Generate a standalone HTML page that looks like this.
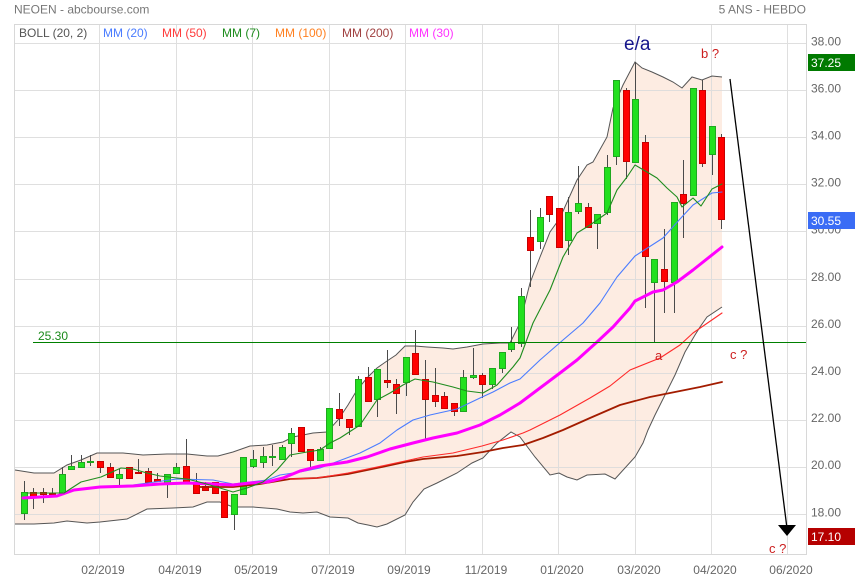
<!DOCTYPE html>
<html><head><meta charset="utf-8"><style>
html,body{margin:0;padding:0;background:#fff;}
svg{display:block;}
text{font-family:"Liberation Sans",Arial,sans-serif;}
</style></head><body>
<svg width="855" height="580" viewBox="0 0 855 580" xmlns="http://www.w3.org/2000/svg">
<rect width="855" height="580" fill="#fff"/>
<!-- bollinger fill -->
<polygon fill="#fdece2" points="15,470 34,473 54,473 67,465 81,460 97,453 123,453 143,455 167,454 187,454 207,456 218,456 233,452 250,446 267,445 283,442 293,437 313,433 327,432 338,420 348,405 357,390 367,378 377,368 387,361 396,355 405,346 415,346 427,347 443,348 453,349 467,347 483,344 500,343 510,343 520,323 530,283 540,257 550,232 560,218 568,200 577,180 587,165 593,162 607,137 613,108 623,85 635,62 642,68 652,72 663,77 673,82 682,88 692,77 702,80 712,76 722,77 722,307 707,317 700,327 695,335 685,352 675,375 665,395 655,415 648,430 643,443 635,457 615,479 605,474 587,475 577,480 567,477 559,473 550,475 535,457 520,437 511,432 497,443 483,458 472,463 457,473 437,483 424,489 413,502 405,515 387,524 377,527 368,525 358,523 348,518 330,517 317,512 303,513 290,512 277,509 253,507 233,507 220,502 207,502 193,507 173,508 147,509 127,519 100,522 87,523 67,521 54,523 34,524 15,524"/>
<!-- grid -->
<g stroke="#dcdcdc" stroke-width="1" fill="none" opacity="0.9">
<line x1="15" y1="43.5" x2="806" y2="43.5"/><line x1="15" y1="90.5" x2="806" y2="90.5"/><line x1="15" y1="137.5" x2="806" y2="137.5"/><line x1="15" y1="184.5" x2="806" y2="184.5"/><line x1="15" y1="231.5" x2="806" y2="231.5"/><line x1="15" y1="279.5" x2="806" y2="279.5"/><line x1="15" y1="326.5" x2="806" y2="326.5"/><line x1="15" y1="373.5" x2="806" y2="373.5"/><line x1="15" y1="420.5" x2="806" y2="420.5"/><line x1="15" y1="467.5" x2="806" y2="467.5"/><line x1="15" y1="514.5" x2="806" y2="514.5"/>
<line x1="99.5" y1="24" x2="99.5" y2="554"/><line x1="176.5" y1="24" x2="176.5" y2="554"/><line x1="252.5" y1="24" x2="252.5" y2="554"/><line x1="329.5" y1="24" x2="329.5" y2="554"/><line x1="405.5" y1="24" x2="405.5" y2="554"/><line x1="482.5" y1="24" x2="482.5" y2="554"/><line x1="558.5" y1="24" x2="558.5" y2="554"/><line x1="635.5" y1="24" x2="635.5" y2="554"/><line x1="711.5" y1="24" x2="711.5" y2="554"/><line x1="787.5" y1="24" x2="787.5" y2="554"/>
</g>
<rect x="14.5" y="24.5" width="792" height="530" fill="none" stroke="#d8d8d8"/>
<!-- band lines -->
<g fill="none" stroke="#555" stroke-width="1">
<polyline points="15,470 34,473 54,473 67,465 81,460 97,453 123,453 143,455 167,454 187,454 207,456 218,456 233,452 250,446 267,445 283,442 293,437 313,433 327,432 338,420 348,405 357,390 367,378 377,368 387,361 396,355 405,346 415,346 427,347 443,348 453,349 467,347 483,344 500,343 510,343 520,323 530,283 540,257 550,232 560,218 568,200 577,180 587,165 593,162 607,137 613,108 623,85 635,62 642,68 652,72 663,77 673,82 682,88 692,77 702,80 712,76 722,77"/>
<polyline points="15,524 34,524 54,523 67,521 87,523 100,522 127,519 147,509 173,508 193,507 207,502 220,502 233,507 253,507 277,509 290,512 303,513 317,512 330,517 348,518 358,523 368,525 377,527 387,524 405,515 413,502 424,489 437,483 457,473 472,463 483,458 497,443 511,432 520,437 535,457 550,475 559,473 567,477 577,480 587,475 605,474 615,479 635,457 643,443 648,430 655,415 665,395 675,375 685,352 695,335 700,327 707,317 722,307"/>
</g>
<!-- wicks -->
<g stroke="#4a4a4a" stroke-width="1">
<line x1="24.5" y1="481" x2="24.5" y2="520"/><line x1="33.5" y1="488" x2="33.5" y2="509"/><line x1="43.5" y1="488" x2="43.5" y2="503"/><line x1="52.5" y1="488" x2="52.5" y2="494"/><line x1="62.5" y1="467" x2="62.5" y2="493"/><line x1="71.5" y1="455" x2="71.5" y2="469"/><line x1="81.5" y1="455" x2="81.5" y2="467"/><line x1="90.5" y1="455" x2="90.5" y2="466"/><line x1="100.5" y1="461" x2="100.5" y2="473"/><line x1="110.5" y1="463" x2="110.5" y2="477"/><line x1="119.5" y1="469" x2="119.5" y2="485"/><line x1="129.5" y1="467" x2="129.5" y2="478"/><line x1="138.5" y1="459" x2="138.5" y2="473"/><line x1="148.5" y1="468" x2="148.5" y2="482"/><line x1="157.5" y1="473" x2="157.5" y2="481"/><line x1="167.5" y1="474" x2="167.5" y2="498"/><line x1="176.5" y1="463" x2="176.5" y2="473"/><line x1="186.5" y1="439" x2="186.5" y2="482"/><line x1="196.5" y1="473" x2="196.5" y2="493"/><line x1="205.5" y1="482" x2="205.5" y2="490"/><line x1="215.5" y1="482" x2="215.5" y2="493"/><line x1="224.5" y1="491" x2="224.5" y2="517"/><line x1="234.5" y1="494" x2="234.5" y2="530"/><line x1="243.5" y1="457" x2="243.5" y2="494"/><line x1="253.5" y1="450" x2="253.5" y2="468"/><line x1="263.5" y1="447" x2="263.5" y2="468"/><line x1="272.5" y1="445" x2="272.5" y2="466"/><line x1="282.5" y1="445" x2="282.5" y2="459"/><line x1="291.5" y1="428" x2="291.5" y2="457"/><line x1="301.5" y1="427" x2="301.5" y2="451"/><line x1="310.5" y1="449" x2="310.5" y2="468"/><line x1="320.5" y1="447" x2="320.5" y2="460"/><line x1="329.5" y1="408" x2="329.5" y2="448"/><line x1="339.5" y1="393" x2="339.5" y2="426"/><line x1="349.5" y1="419" x2="349.5" y2="435"/><line x1="358.5" y1="376" x2="358.5" y2="426"/><line x1="368.5" y1="367" x2="368.5" y2="401"/><line x1="377.5" y1="369" x2="377.5" y2="417"/><line x1="387.5" y1="350" x2="387.5" y2="388"/><line x1="396.5" y1="379" x2="396.5" y2="414"/><line x1="406.5" y1="357" x2="406.5" y2="396"/><line x1="415.5" y1="330" x2="415.5" y2="374"/><line x1="425.5" y1="360" x2="425.5" y2="441"/><line x1="435.5" y1="368" x2="435.5" y2="407"/><line x1="444.5" y1="392" x2="444.5" y2="408"/><line x1="454.5" y1="403" x2="454.5" y2="416"/><line x1="463.5" y1="370" x2="463.5" y2="411"/><line x1="473.5" y1="348" x2="473.5" y2="379"/><line x1="482.5" y1="373" x2="482.5" y2="398"/><line x1="492.5" y1="368" x2="492.5" y2="389"/><line x1="502.5" y1="352" x2="502.5" y2="373"/><line x1="511.5" y1="327" x2="511.5" y2="352"/><line x1="521.5" y1="288" x2="521.5" y2="347"/><line x1="530.5" y1="210" x2="530.5" y2="287"/><line x1="540.5" y1="208" x2="540.5" y2="249"/><line x1="549.5" y1="196" x2="549.5" y2="222"/><line x1="559.5" y1="208" x2="559.5" y2="247"/><line x1="568.5" y1="197" x2="568.5" y2="255"/><line x1="578.5" y1="166" x2="578.5" y2="214"/><line x1="588.5" y1="203" x2="588.5" y2="227"/><line x1="597.5" y1="214" x2="597.5" y2="249"/><line x1="607.5" y1="155" x2="607.5" y2="215"/><line x1="616.5" y1="80" x2="616.5" y2="165"/><line x1="626.5" y1="88" x2="626.5" y2="179"/><line x1="635.5" y1="62" x2="635.5" y2="162"/><line x1="645.5" y1="135" x2="645.5" y2="308"/><line x1="654.5" y1="259" x2="654.5" y2="343"/><line x1="664.5" y1="229" x2="664.5" y2="313"/><line x1="674.5" y1="202" x2="674.5" y2="313"/><line x1="683.5" y1="160" x2="683.5" y2="238"/><line x1="693.5" y1="88" x2="693.5" y2="195"/><line x1="702.5" y1="80" x2="702.5" y2="167"/><line x1="712.5" y1="126" x2="712.5" y2="175"/><line x1="721.5" y1="134" x2="721.5" y2="229"/>
</g>
<!-- green bodies -->
<g fill="#22e01e" stroke="#1fa81f" stroke-width="1">
<rect x="21.5" y="492.5" width="6" height="21"/><rect x="59.5" y="474.5" width="6" height="19"/><rect x="68.5" y="466.5" width="6" height="3"/><rect x="78.5" y="462.5" width="6" height="5"/><rect x="87.5" y="461.5" width="6" height="1"/><rect x="116.5" y="474.5" width="6" height="4"/><rect x="164.5" y="474.5" width="6" height="9"/><rect x="173.5" y="467.5" width="6" height="6"/><rect x="231.5" y="494.5" width="6" height="20"/><rect x="240.5" y="457.5" width="6" height="37"/><rect x="250.5" y="459.5" width="6" height="7"/><rect x="260.5" y="456.5" width="6" height="6"/><rect x="269.5" y="456.5" width="6" height="1"/><rect x="279.5" y="447.5" width="6" height="12"/><rect x="288.5" y="433.5" width="6" height="10"/><rect x="317.5" y="449.5" width="6" height="11"/><rect x="326.5" y="408.5" width="6" height="40"/><rect x="355.5" y="379.5" width="6" height="47"/><rect x="374.5" y="369.5" width="6" height="30"/><rect x="403.5" y="357.5" width="6" height="25"/><rect x="460.5" y="377.5" width="6" height="34"/><rect x="470.5" y="375.5" width="6" height="2"/><rect x="489.5" y="368.5" width="6" height="16"/><rect x="499.5" y="352.5" width="6" height="16"/><rect x="508.5" y="342.5" width="6" height="7"/><rect x="518.5" y="296.5" width="6" height="47"/><rect x="537.5" y="217.5" width="6" height="24"/><rect x="565.5" y="212.5" width="6" height="28"/><rect x="575.5" y="203.5" width="6" height="8"/><rect x="594.5" y="214.5" width="6" height="9"/><rect x="604.5" y="167.5" width="6" height="45"/><rect x="613.5" y="80.5" width="6" height="76"/><rect x="632.5" y="99.5" width="6" height="63"/><rect x="651.5" y="259.5" width="6" height="23"/><rect x="671.5" y="202.5" width="6" height="80"/><rect x="690.5" y="88.5" width="6" height="107"/><rect x="709.5" y="126.5" width="6" height="28"/>
</g>
<!-- red bodies -->
<g fill="#ff0000" stroke="#c80000" stroke-width="1">
<rect x="30.5" y="492.5" width="6" height="4"/><rect x="40.5" y="492.5" width="6" height="2"/><rect x="49.5" y="493.5" width="6" height="1"/><rect x="97.5" y="461.5" width="6" height="6"/><rect x="107.5" y="467.5" width="6" height="10"/><rect x="126.5" y="467.5" width="6" height="11"/><rect x="135.5" y="472.5" width="6" height="1"/><rect x="145.5" y="471.5" width="6" height="11"/><rect x="154.5" y="479.5" width="6" height="2"/><rect x="183.5" y="466.5" width="6" height="16"/><rect x="193.5" y="482.5" width="6" height="11"/><rect x="202.5" y="486.5" width="6" height="4"/><rect x="212.5" y="482.5" width="6" height="11"/><rect x="221.5" y="491.5" width="6" height="26"/><rect x="298.5" y="427.5" width="6" height="24"/><rect x="307.5" y="449.5" width="6" height="11"/><rect x="336.5" y="409.5" width="6" height="9"/><rect x="346.5" y="419.5" width="6" height="8"/><rect x="365.5" y="377.5" width="6" height="24"/><rect x="384.5" y="380.5" width="6" height="2"/><rect x="393.5" y="384.5" width="6" height="9"/><rect x="412.5" y="353.5" width="6" height="21"/><rect x="422.5" y="379.5" width="6" height="20"/><rect x="432.5" y="395.5" width="6" height="6"/><rect x="441.5" y="396.5" width="6" height="12"/><rect x="451.5" y="403.5" width="6" height="8"/><rect x="479.5" y="375.5" width="6" height="9"/><rect x="527.5" y="237.5" width="6" height="13"/><rect x="546.5" y="196.5" width="6" height="18"/><rect x="556.5" y="208.5" width="6" height="39"/><rect x="585.5" y="207.5" width="6" height="20"/><rect x="623.5" y="90.5" width="6" height="71"/><rect x="642.5" y="142.5" width="6" height="114"/><rect x="661.5" y="269.5" width="6" height="12"/><rect x="680.5" y="194.5" width="6" height="9"/><rect x="699.5" y="90.5" width="6" height="73"/><rect x="718.5" y="137.5" width="6" height="82"/>
</g>
<!-- moving averages -->
<g fill="none" stroke-linejoin="round" stroke-linecap="round">
<polyline stroke="#a31c00" stroke-width="1.8" points="200,487 233,487 260,484 290,479 317,478 348,474 377,468 405,462 423,459 457,456 483,452 503,448 523,445 543,438 563,430 590,418 620,405 650,397 680,391 700,387 722,382"/>
<polyline stroke="#ff2a2a" stroke-width="1.1" points="290,479 317,478 348,473 377,467 405,461 423,457 453,453 482,446 503,440 523,433 530,430 560,415 590,398 610,386 630,370 660,358 680,345 693,333 722,313"/>
<polyline stroke="#4a7cff" stroke-width="1.1" points="100,487 133,485 177,479 213,480 233,484 267,480 280,475 300,472 320,468 360,453 380,443 397,430 413,420 430,415 457,409 480,398 493,392 510,383 520,379 540,360 563,340 583,323 600,303 617,277 635,256 663,238 680,219 693,205 712,193 722,192"/>
<polyline stroke="#ff00ff" stroke-width="3" points="23,498 57,496 74,490 100,487 133,486 160,484 187,483 213,484 233,485 250,483 267,482 283,478 300,471 320,466 347,462 367,457 390,449 413,443 433,438 457,433 480,425 500,415 520,403 540,388 560,373 577,360 597,342 613,327 630,308 635,301 653,292 663,290 677,282 693,270 722,247"/>
<polyline stroke="#1e8c1e" stroke-width="1.1" points="27,493 64,493 81,482 101,477 121,468 133,469 147,473 160,476 177,478 187,479 203,483 220,488 233,492 247,488 263,482 277,470 290,455 307,452 320,450 330,443 340,438 360,425 377,400 390,393 403,385 415,379 433,382 453,387 467,391 483,393 497,385 513,367 520,358 533,323 550,290 563,257 577,233 590,225 607,213 617,190 627,177 635,165 647,172 657,178 667,188 677,197 682,207 693,198 701,206 712,189 722,184"/>
</g>
<!-- 25.30 line -->
<line x1="33" y1="342.5" x2="806" y2="342.5" stroke="#008000" stroke-width="1"/>
<text x="38" y="340" font-size="12" fill="#1a8a1a">25.30</text>
<!-- arrow -->
<line x1="730" y1="79" x2="786.7" y2="526" stroke="#000" stroke-width="1.3"/>
<polygon points="778,525 796,525 787,536" fill="#000"/>
<!-- annotations -->
<text x="624" y="50" font-size="19" fill="#16168c">e/a</text>
<text x="701" y="58" font-size="13" fill="#cc1f1f">b ?</text>
<text x="655" y="360" font-size="13" fill="#cc1f1f">a</text>
<text x="730" y="359" font-size="13" fill="#cc1f1f">c ?</text>
<text x="769" y="553" font-size="13" fill="#cc1f1f">c ?</text>
<!-- header -->
<text x="14" y="13.5" font-size="12" fill="#777">NEOEN - abcbourse.com</text>
<text x="806" y="13.5" font-size="12" fill="#777" text-anchor="end">5 ANS - HEBDO</text>
<!-- legend -->
<g font-size="12">
<text x="19" y="37" fill="#555">BOLL (20, 2)</text>
<text x="103" y="37" fill="#4a7cff">MM (20)</text>
<text x="162" y="37" fill="#ff3b3b">MM (50)</text>
<text x="222" y="37" fill="#1e8c1e">MM (7)</text>
<text x="275" y="37" fill="#ff8020">MM (100)</text>
<text x="342" y="37" fill="#a04040">MM (200)</text>
<text x="409" y="37" fill="#ff33ff">MM (30)</text>
</g>
<!-- right axis -->
<g font-size="12" fill="#666">
<text x="811" y="45.5">38.00</text>
<text x="811" y="92.5">36.00</text>
<text x="811" y="139.5">34.00</text>
<text x="811" y="186.5">32.00</text>
<text x="811" y="233.5">30.00</text>
<text x="811" y="281">28.00</text>
<text x="811" y="328">26.00</text>
<text x="811" y="375">24.00</text>
<text x="811" y="422">22.00</text>
<text x="811" y="469">20.00</text>
<text x="811" y="516.5">18.00</text>
</g>
<rect x="808" y="54" width="47" height="17" fill="#007a00"/>
<text x="811" y="67" font-size="12" fill="#fff">37.25</text>
<rect x="808" y="212" width="47" height="17" fill="#3a6cf5"/>
<text x="811" y="225" font-size="12" fill="#fff">30.55</text>
<rect x="808" y="528" width="47" height="17" fill="#b50000"/>
<text x="811" y="541" font-size="12" fill="#fff">17.10</text>
<!-- bottom axis -->
<g font-size="12" fill="#666" text-anchor="middle">
<text x="103" y="574">02/2019</text>
<text x="180" y="574">04/2019</text>
<text x="256" y="574">05/2019</text>
<text x="333" y="574">07/2019</text>
<text x="409" y="574">09/2019</text>
<text x="486" y="574">11/2019</text>
<text x="562" y="574">01/2020</text>
<text x="639" y="574">03/2020</text>
<text x="715" y="574">04/2020</text>
<text x="791" y="574">06/2020</text>
</g>
</svg>
</body></html>
